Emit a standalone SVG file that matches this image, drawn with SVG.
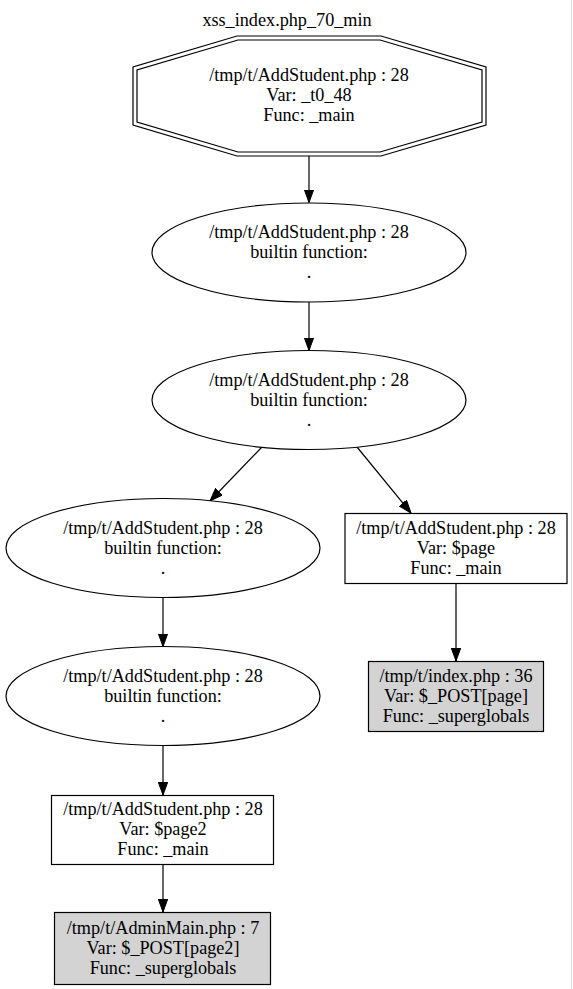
<svg xmlns="http://www.w3.org/2000/svg" width="573" height="989" viewBox="0 0 573 989">
<style>
text{font-family:"Liberation Serif","Times New Roman",serif;font-size:18.2px;text-anchor:middle;fill:#000}
.n{fill:none;stroke:#000;stroke-width:1.2}
.w{fill:#fff;stroke:#000;stroke-width:1.2}
.g{fill:#d3d3d3;stroke:#000;stroke-width:1.2}
.e{stroke:#000;stroke-width:1.2;fill:none}
</style>
<defs>
<marker id="arr" markerWidth="14" markerHeight="10" refX="13" refY="4.75" orient="auto" markerUnits="userSpaceOnUse">
<path d="M0,0 L13,4.75 L0,9.5 z" fill="#000" stroke="#000"/>
</marker>
</defs>
<rect x="0" y="0" width="573" height="989" fill="#fff"/>
<line x1="571.5" y1="0" x2="571.5" y2="989" stroke="#d8d8d8"/>
<text x="287" y="26">xss_index.php_70_min</text>

<g id="edges">
<line class="e" x1="309" y1="156" x2="309" y2="202.5" marker-end="url(#arr)"/>
<line class="e" x1="309" y1="302" x2="309" y2="350.5" marker-end="url(#arr)"/>
<line class="e" x1="262" y1="447" x2="210" y2="501" marker-end="url(#arr)"/>
<line class="e" x1="357" y1="447" x2="411" y2="513" marker-end="url(#arr)"/>
<line class="e" x1="456" y1="584" x2="456" y2="661" marker-end="url(#arr)"/>
<line class="e" x1="163" y1="597.5" x2="163" y2="646.5" marker-end="url(#arr)"/>
<line class="e" x1="163" y1="745.5" x2="163" y2="795" marker-end="url(#arr)"/>
<line class="e" x1="163" y1="865" x2="163" y2="912" marker-end="url(#arr)"/>
</g>

<g id="node1">
<polygon class="w" points="486,67 486,125 381,156 237,156 133,125 133,67 237,36 381,36"/>
<polygon class="n" points="482,70 482,122 380,152 238,152 137,122 137,70 238,40 380,40"/>
<text x="309" y="81">/tmp/t/AddStudent.php : 28</text>
<text x="309" y="101">Var: _t0_48</text>
<text x="309" y="121">Func: _main</text>
</g>

<g id="node2">
<ellipse class="w" cx="309" cy="252.5" rx="157" ry="49.5"/>
<text x="309" y="238">/tmp/t/AddStudent.php : 28</text>
<text x="309" y="258">builtin function:</text>
<text x="309" y="278">.</text>
</g>

<g id="node3">
<ellipse class="w" cx="309" cy="400" rx="157" ry="49.5"/>
<text x="309" y="386">/tmp/t/AddStudent.php : 28</text>
<text x="309" y="406">builtin function:</text>
<text x="309" y="426">.</text>
</g>

<g id="node4">
<ellipse class="w" cx="163" cy="548" rx="157" ry="49.5"/>
<text x="163" y="534">/tmp/t/AddStudent.php : 28</text>
<text x="163" y="554">builtin function:</text>
<text x="163" y="574">.</text>
</g>

<g id="node5">
<rect class="w" x="345" y="513.5" width="222" height="70"/>
<text x="456" y="534">/tmp/t/AddStudent.php : 28</text>
<text x="456" y="554">Var: $page</text>
<text x="456" y="574">Func: _main</text>
</g>

<g id="node6">
<rect class="g" x="368.5" y="661.5" width="175" height="70"/>
<text x="456" y="682">/tmp/t/index.php : 36</text>
<text x="456" y="702">Var: $_POST[page]</text>
<text x="456" y="722">Func: _superglobals</text>
</g>

<g id="node7">
<ellipse class="w" cx="163" cy="696" rx="157" ry="49.5"/>
<text x="163" y="682">/tmp/t/AddStudent.php : 28</text>
<text x="163" y="702">builtin function:</text>
<text x="163" y="722">.</text>
</g>

<g id="node8">
<rect class="w" x="51.5" y="795.5" width="222" height="69"/>
<text x="163" y="815">/tmp/t/AddStudent.php : 28</text>
<text x="163" y="835">Var: $page2</text>
<text x="163" y="855">Func: _main</text>
</g>

<g id="node9">
<rect class="g" x="54.5" y="912.5" width="216" height="72"/>
<text x="163" y="934">/tmp/t/AdminMain.php : 7</text>
<text x="163" y="954">Var: $_POST[page2]</text>
<text x="163" y="974">Func: _superglobals</text>
</g>
</svg>
